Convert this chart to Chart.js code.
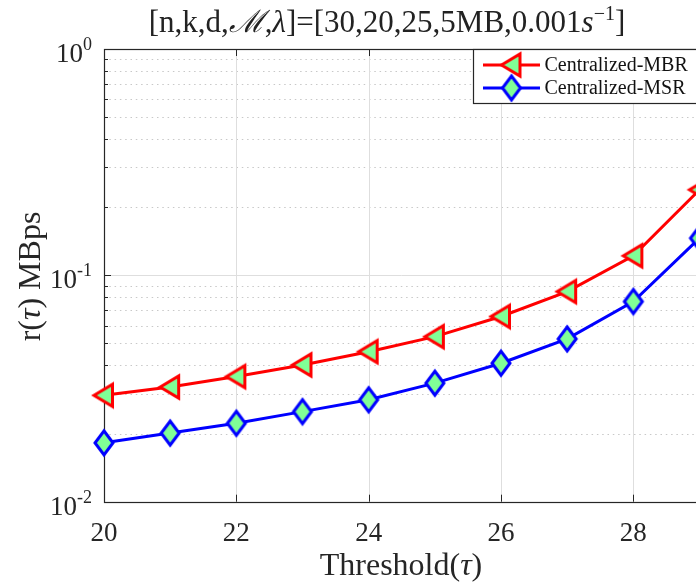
<!DOCTYPE html>
<html>
<head>
<meta charset="utf-8">
<title>Threshold rate</title>
<script src="https://cdn.jsdelivr.net/npm/chart.js@4.4.1/dist/chart.umd.min.js"></script>
<style>
    html, body { margin: 0; padding: 0; background: #fff; overflow: hidden; }
    canvas { display: block; }
</style>
</head>
<body>
<canvas id="rateChart" width="720" height="585"></canvas>
<script>
// Repair rate vs. threshold, log y axis
const thresholds = [20, 21, 22, 23, 24, 25, 26, 27, 28, 29];
const mbrRate = [0.0295, 0.0321, 0.0357, 0.0402, 0.0460, 0.0536, 0.0658, 0.0848, 0.122, 0.239];
const msrRate = [0.0182, 0.0201, 0.0222, 0.0250, 0.0282, 0.0334, 0.0409, 0.0524, 0.0766, 0.146];
const seriesNames = ["Centralized-MBR", "Centralized-MSR"];

const xTicks = [20, 22, 24, 26, 28];
const yDecades = [0.01, 0.1, 1];
const yDecadeExp = ["-2", "-1", "0"];
const yMinor = [0.02, 0.03, 0.04, 0.05, 0.06, 0.07, 0.08, 0.09,
                0.2, 0.3, 0.4, 0.5, 0.6, 0.7, 0.8, 0.9];

const AXIS = "#262626";
const FILL = "rgb(128,255,150)";
const SERIF = "'Liberation Serif', 'DejaVu Serif', serif";

// marker images ('<' triangle and tall diamond), centred on the data point
function makeMarker(kind, stroke) {
    const c = document.createElement("canvas");
    c.width = 28; c.height = 30;
    const g = c.getContext("2d");
    g.translate(14, 15);
    g.beginPath();
    if (kind === "tri") {
        g.moveTo(-10, 0); g.lineTo(8.5, -11); g.lineTo(8.5, 11);
    } else {
        g.moveTo(0, -12); g.lineTo(9, 0); g.lineTo(0, 12); g.lineTo(-9, 0);
    }
    g.closePath();
    g.fillStyle = FILL;
    g.fill();
    g.lineWidth = 3;
    g.lineJoin = "miter";
    g.strokeStyle = stroke;
    g.stroke();
    return c;
}
const triMarker = makeMarker("tri", "#ff0000");
const diaMarker = makeMarker("dia", "#0000ff");

// draw a row of differently styled text pieces
function drawRuns(ctx, runs, x, y, align) {
    let total = 0;
    runs.forEach(r => { ctx.font = r.font; r.w = ctx.measureText(r.t).width; total += r.w; });
    let cx = align === "center" ? x - total / 2 : align === "right" ? x - total : x;
    ctx.textAlign = "left";
    ctx.textBaseline = "alphabetic";
    runs.forEach(r => {
        ctx.font = r.font;
        ctx.fillText(r.t, cx, y - (r.dy || 0));
        cx += r.w;
    });
}

const framePlugin = {
    id: "frame",
    beforeDatasetsDraw(chart) {
        const { ctx, chartArea: a, scales: { x, y } } = chart;
        ctx.save();
        // minor dotted grid
        ctx.strokeStyle = "#c8c8c8";
        ctx.lineWidth = 1;
        ctx.setLineDash([1.5, 3.8]);
        yMinor.forEach(v => {
            const py = Math.round(y.getPixelForValue(v)) + 0.5;
            ctx.beginPath(); ctx.moveTo(a.left, py); ctx.lineTo(a.right, py); ctx.stroke();
        });
        ctx.setLineDash([]);
        // major grid
        ctx.strokeStyle = "#dedede";
        xTicks.forEach(v => {
            if (v === x.min) return;
            const px = Math.round(x.getPixelForValue(v)) + 0.5;
            ctx.beginPath(); ctx.moveTo(px, a.top); ctx.lineTo(px, a.bottom); ctx.stroke();
        });
        yDecades.forEach(v => {
            if (v === y.min || v === y.max) return;
            const py = Math.round(y.getPixelForValue(v)) + 0.5;
            ctx.beginPath(); ctx.moveTo(a.left, py); ctx.lineTo(a.right, py); ctx.stroke();
        });
        // axes box
        ctx.strokeStyle = AXIS;
        ctx.lineWidth = 1.2;
        ctx.strokeRect(Math.round(a.left) + 0.5, Math.round(a.top) + 0.5,
                       Math.round(a.right - a.left), Math.round(a.bottom - a.top));
        // tick marks, pointing inwards
        ctx.lineWidth = 1;
        ctx.beginPath();
        xTicks.forEach(v => {
            const px = Math.round(x.getPixelForValue(v)) + 0.5;
            ctx.moveTo(px, a.bottom); ctx.lineTo(px, a.bottom - 7);
            ctx.moveTo(px, a.top); ctx.lineTo(px, a.top + 7);
        });
        yDecades.forEach(v => {
            const py = Math.round(y.getPixelForValue(v)) + 0.5;
            ctx.moveTo(a.left, py); ctx.lineTo(a.left + 7, py);
        });
        yMinor.forEach(v => {
            const py = Math.round(y.getPixelForValue(v)) + 0.5;
            ctx.moveTo(a.left, py); ctx.lineTo(a.left + 4, py);
        });
        ctx.stroke();
        ctx.restore();
    },
    afterDatasetsDraw(chart) {
        const { ctx, chartArea: a, scales: { x, y } } = chart;
        ctx.save();
        ctx.fillStyle = AXIS;

        // x tick labels
        ctx.font = "27px " + SERIF;
        ctx.textAlign = "center";
        ctx.textBaseline = "alphabetic";
        xTicks.forEach(v => ctx.fillText(String(v), x.getPixelForValue(v), a.bottom + 39));

        // y tick labels 10^k
        yDecades.forEach((v, i) => {
            const py = y.getPixelForValue(v);
            drawRuns(ctx, [
                { t: "10", font: "27px " + SERIF },
                { t: yDecadeExp[i], font: "18px " + SERIF, dy: 12 }
            ], a.left - 12, py + 13, "right");
        });

        // axis titles
        drawRuns(ctx, [
            { t: "Threshold(", font: "32px " + SERIF },
            { t: "\u03c4", font: "italic 32px " + SERIF },
            { t: ")", font: "32px " + SERIF }
        ], 401, a.bottom + 73, "center");

        ctx.save();
        ctx.translate(40, 276.5);
        ctx.rotate(-Math.PI / 2);
        drawRuns(ctx, [
            { t: "r(", font: "32px " + SERIF },
            { t: "\u03c4", font: "italic 32px " + SERIF },
            { t: ") MBps", font: "32px " + SERIF }
        ], 0, 0, "center");
        ctx.restore();

        // title
        ctx.fillStyle = "#222";
        drawRuns(ctx, [
            { t: "[n,k,d,", font: "31px " + SERIF },
            { t: "\u2133", font: "italic 31px " + SERIF },
            { t: ",", font: "31px " + SERIF },
            { t: "\u03bb", font: "italic 31px " + SERIF },
            { t: "]=[30,20,25,5MB,0.001", font: "31px " + SERIF },
            { t: "s", font: "italic 31px " + SERIF },
            { t: "\u22121", font: "20px " + SERIF, dy: 12 },
            { t: "]", font: "31px " + SERIF }
        ], 387, 32, "center");

        // legend box
        const lx = 473, ly = Math.round(a.top) + 0.5, lw = 240, lh = 54;
        ctx.fillStyle = "#fff";
        ctx.fillRect(lx, ly, lw, lh);
        ctx.strokeStyle = AXIS;
        ctx.lineWidth = 1.2;
        ctx.strokeRect(lx + 0.5, ly, lw, lh);
        const rows = [
            { name: seriesNames[0], color: "#ff0000", img: triMarker, cy: ly + 15.5 },
            { name: seriesNames[1], color: "#0000ff", img: diaMarker, cy: ly + 38.5 }
        ];
        rows.forEach(r => {
            ctx.strokeStyle = r.color;
            ctx.lineWidth = 3;
            ctx.beginPath(); ctx.moveTo(483, r.cy); ctx.lineTo(540, r.cy); ctx.stroke();
            ctx.drawImage(r.img, 511.5 - r.img.width / 2, r.cy - r.img.height / 2);
            ctx.fillStyle = "#111";
            ctx.font = "20px " + SERIF;
            ctx.textAlign = "left";
            ctx.textBaseline = "middle";
            ctx.fillText(r.name, 544.5, r.cy + 1);
        });
        ctx.restore();
    }
};

new Chart(document.getElementById("rateChart"), {
    type: "line",
    data: {
        datasets: [
            {
                label: seriesNames[0],
                data: thresholds.map((t, i) => ({ x: t, y: mbrRate[i] })),
                borderColor: "#ff0000",
                borderWidth: 3,
                pointStyle: triMarker,
                pointRadius: 12,
                tension: 0,
                clip: false
            },
            {
                label: seriesNames[1],
                data: thresholds.map((t, i) => ({ x: t, y: msrRate[i] })),
                borderColor: "#0000ff",
                borderWidth: 3,
                pointStyle: diaMarker,
                pointRadius: 12,
                tension: 0,
                clip: false
            }
        ]
    },
    options: {
        responsive: false,
        animation: false,
        events: [],
        layout: { padding: { left: 104, top: 49, right: 20.5, bottom: 83.3 } },
        scales: {
            x: { type: "linear", display: false, min: 20, max: 29 },
            y: { type: "logarithmic", display: false, min: 0.01, max: 1 }
        },
        plugins: {
            legend: { display: false },
            title: { display: false },
            tooltip: { enabled: false }
        }
    },
    plugins: [framePlugin]
});
</script>
</body>
</html>
